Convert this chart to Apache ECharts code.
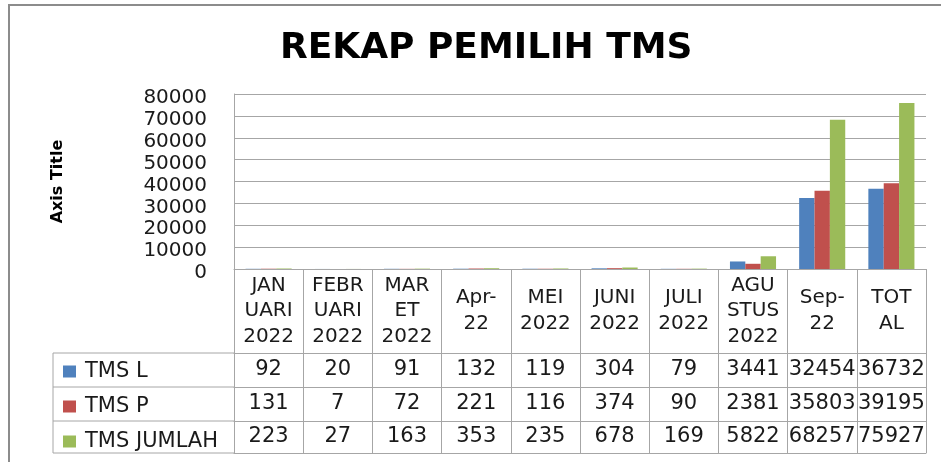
<!DOCTYPE html>
<html>
<head>
<meta charset="utf-8">
<title>REKAP PEMILIH TMS</title>
<script src="https://cdn.jsdelivr.net/npm/echarts@6/dist/echarts.min.js"></script>
<style>
  html, body { margin: 0; padding: 0; background: #fff; }
  #chart { width: 941px; height: 462px; }
</style>
</head>
<body>
<div id="chart"></div>
<script>
// Month columns (header text of the data table, wrapped as in the sheet)
const categories = [
  'JAN\nUARI\n2022', 'FEBR\nUARI\n2022', 'MAR\nET\n2022', 'Apr-\n22',
  'MEI\n2022', 'JUNI\n2022', 'JULI\n2022', 'AGU\nSTUS\n2022', 'Sep-\n22', 'TOT\nAL'
];
const tmsL      = [92, 20, 91, 132, 119, 304, 79, 3441, 32454, 36732];
const tmsP      = [131, 7, 72, 221, 116, 374, 90, 2381, 35803, 39195];
const tmsJumlah = [223, 27, 163, 353, 235, 678, 169, 5822, 68257, 75927];
const seriesNames = ['TMS L', 'TMS P', 'TMS JUMLAH'];
const yTicks = [0, 10000, 20000, 30000, 40000, 50000, 60000, 70000, 80000];

// Layout of plot area and table below it
const W = 941, H = 462;
const plotLeft = 234, plotRight = 926, plotTop = 94, plotBottom = 269;
const headerH = 84, rowHeights = [34, 34, 32], tableLeft = 53;
const rows = [tmsL, tmsP, tmsJumlah];
const colors = ['#4f81bd', '#c0504d', '#9bbb59'];
const lineColor = '#a6a6a6';
const textColor = '#1a1a1a';
const font = 'DejaVu Sans';

// Bottom x axes: header row, one axis per data row, and a closing line
const xAxes = [{
  type: 'category',
  data: categories,
  position: 'bottom',
  axisLine: { lineStyle: { color: lineColor } },
  axisTick: { show: true, interval: 0, length: headerH, lineStyle: { color: lineColor } },
  axisLabel: {
    interval: 0, margin: headerH / 2, verticalAlign: 'middle',
    fontFamily: font, fontSize: 20, lineHeight: 25.5, color: textColor, align: 'center',
    padding: [2, 0, 0, 0]
  }
}];
let offset = headerH;
rows.forEach((vals, r) => {
  const h = rowHeights[r];
  xAxes.push({
    type: 'category',
    data: categories,
    position: 'bottom',
    offset: offset,
    axisLine: { lineStyle: { color: lineColor } },
    axisTick: { show: true, interval: 0, length: h, lineStyle: { color: lineColor } },
    axisLabel: {
      interval: 0, margin: h / 2, verticalAlign: 'middle',
      fontFamily: font, fontSize: 21, color: textColor,
      padding: [3, 0, 0, 0],
      formatter: (v, i) => String(vals[i])
    }
  });
  offset += h;
});
xAxes.push({
  type: 'category',
  data: categories,
  position: 'bottom',
  offset: offset,
  axisLine: { lineStyle: { color: lineColor } },
  axisTick: { show: false },
  axisLabel: { show: false }
});

// Row-label column borders of the table
const tableTop = plotBottom + headerH;
const tableBottom = plotBottom + offset;
const graphics = [{
  type: 'rect',
  shape: { x: 9, y: 5, width: 1200, height: 1200 },
  style: { fill: 'none', stroke: '#8c8c8c', lineWidth: 2 },
  silent: true
}, {
  type: 'line',
  shape: { x1: tableLeft, y1: tableTop, x2: tableLeft, y2: tableBottom },
  style: { stroke: lineColor, lineWidth: 1 },
  silent: true
}];
let yLine = tableTop;
for (let r = 0; r <= rows.length; r++) {
  graphics.push({
    type: 'line',
    shape: { x1: tableLeft, y1: yLine, x2: plotLeft, y2: yLine },
    style: { stroke: lineColor, lineWidth: 1 },
    silent: true
  });
  if (r < rows.length) yLine += rowHeights[r];
}

const chart = echarts.init(document.getElementById('chart'), null, { renderer: 'canvas' });
chart.setOption({
  animation: false,
  backgroundColor: '#fff',
  title: {
    text: 'REKAP PEMILIH TMS',
    left: 275, top: 26,
    textStyle: { fontFamily: font, fontWeight: 'bold', fontSize: 36, color: '#000' }
  },
  legend: {
    orient: 'vertical',
    left: tableLeft + 10, top: tableTop + 8,
    padding: 0,
    itemGap: 14,
    itemWidth: 13, itemHeight: 12,
    icon: 'rect',
    data: seriesNames,
    textStyle: { fontFamily: font, fontSize: 21, lineHeight: 20, color: textColor, padding: [0, 0, 0, 4] }
  },
  grid: {
    left: plotLeft, right: W - plotRight, top: plotTop, bottom: H - plotBottom
  },
  xAxis: xAxes,
  yAxis: {
    type: 'value',
    min: yTicks[0], max: yTicks[yTicks.length - 1], interval: yTicks[1] - yTicks[0],
    name: 'Axis Title',
    nameLocation: 'middle',
    nameGap: 168,
    nameTextStyle: { fontFamily: font, fontWeight: 'bold', fontSize: 16, color: '#000' },
    axisLine: { show: true, lineStyle: { color: lineColor } },
    axisTick: { show: false },
    axisLabel: {
      margin: 27,
      formatter: v => '{n|' + v + '}',
      rich: {
        n: { fontFamily: font, fontSize: 20, color: textColor, padding: [8, 0, 0, 0] }
      }
    },
    splitLine: { lineStyle: { color: lineColor } }
  },
  series: seriesNames.map((name, k) => ({
    name: name,
    type: 'bar',
    data: rows[k],
    barWidth: '22.2%',
    barGap: '0%',
    itemStyle: { color: colors[k] }
  })),
  graphic: graphics
});
</script>
</body>
</html>
